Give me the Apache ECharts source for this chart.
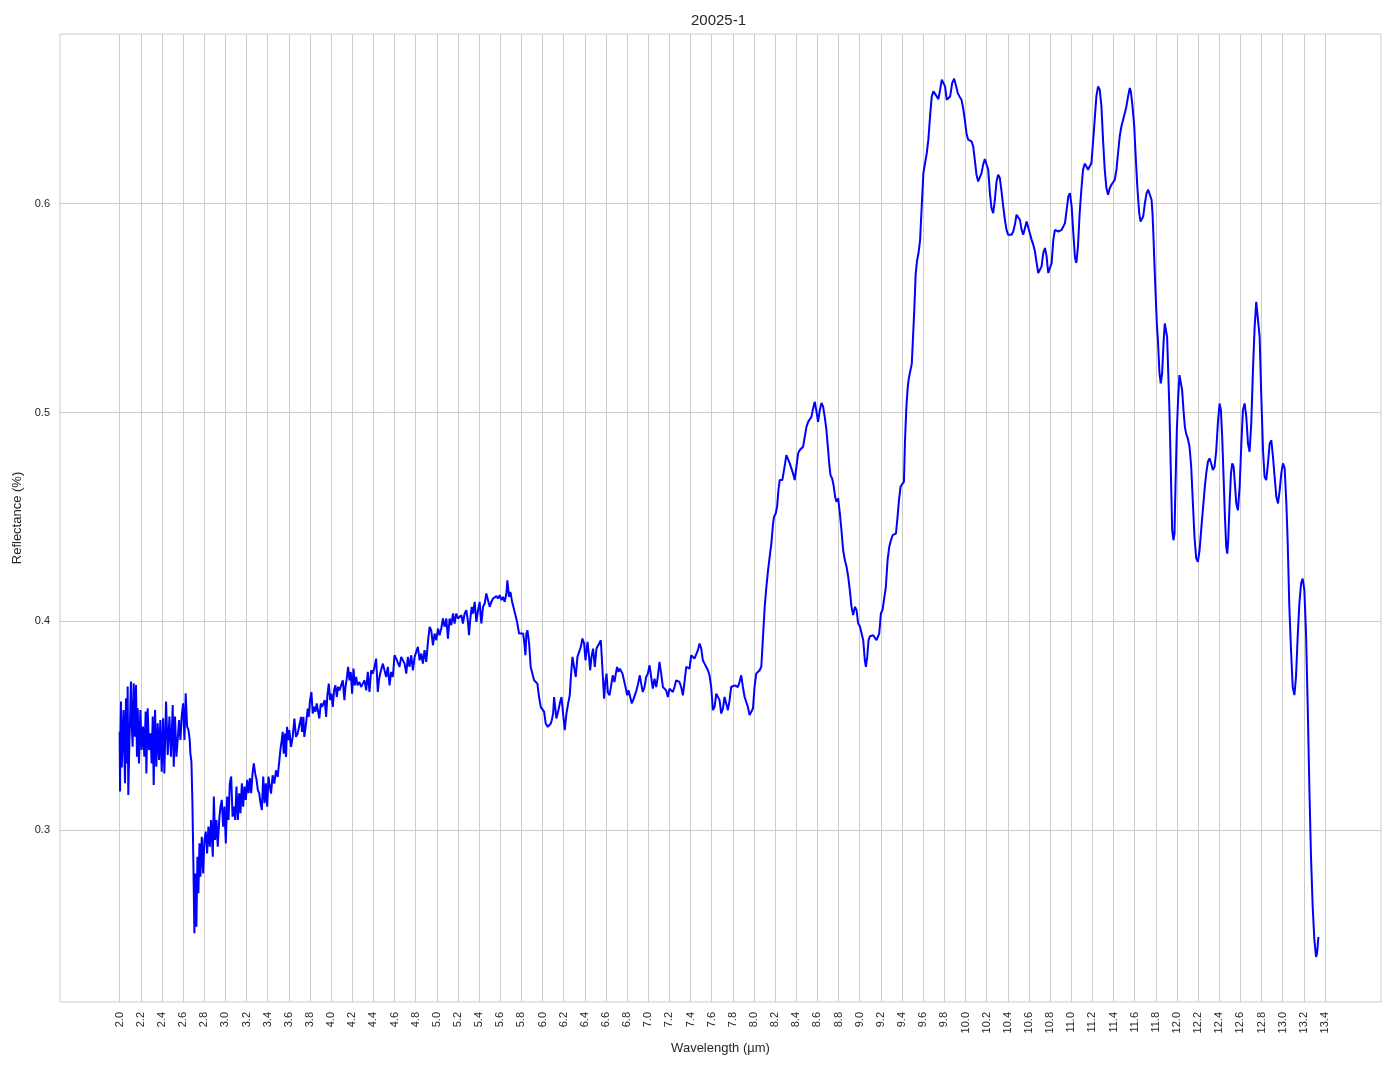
<!DOCTYPE html>
<html>
<head>
<meta charset="utf-8">
<title>20025-1</title>
<script src="https://cdn.jsdelivr.net/npm/echarts@6/dist/echarts.min.js"></script>
<style>
  html, body { margin: 0; padding: 0; background: #ffffff; }
  #chart { width: 1394px; height: 1069px; }
</style>
</head>
<body>
<div id="chart"></div>
<script>
// ---- Data: [wavelength (µm), reflectance] ----
const spectrumA = [
  [2.000,0.3471],[2.004,0.3184],[2.008,0.3470],[2.013,0.3615],[2.020,0.3300],[2.028,0.3431],[2.038,0.3575],[2.045,0.3350],
  [2.051,0.3224],[2.060,0.3631],[2.069,0.3319],[2.076,0.3687],[2.082,0.3168],[2.092,0.3415],[2.100,0.3560],[2.107,0.3711],
  [2.115,0.3500],[2.123,0.3399],[2.133,0.3703],[2.145,0.3447],[2.155,0.3695],[2.164,0.3351],[2.171,0.3583],[2.183,0.3319],
  [2.196,0.3575],[2.208,0.3383],[2.221,0.3495],[2.234,0.3351],[2.246,0.3567],[2.253,0.3271],[2.265,0.3583],[2.278,0.3383],
  [2.291,0.3463],[2.303,0.3319],[2.313,0.3543],[2.322,0.3216],[2.335,0.3575],[2.347,0.3303],[2.360,0.3511],[2.373,0.3335],
  [2.385,0.3527],[2.398,0.3279],[2.411,0.3535],[2.423,0.3271],[2.439,0.3615],[2.455,0.3359],[2.471,0.3543],[2.486,0.3351],
  [2.502,0.3599],[2.512,0.3303],[2.524,0.3543],[2.537,0.3351],[2.549,0.3431],[2.562,0.3527],[2.575,0.3431],[2.587,0.3543],
  [2.600,0.3607],[2.613,0.3431],[2.625,0.3655],[2.638,0.3495],[2.651,0.3479],[2.663,0.3431],[2.669,0.3367],[2.679,0.3327],
  [2.688,0.3144],[2.698,0.2824],[2.707,0.2505],[2.717,0.2792],[2.726,0.2537],[2.736,0.2872],[2.745,0.2697],[2.755,0.2936],
  [2.764,0.2776],[2.777,0.2968],[2.790,0.2792],[2.802,0.2952],[2.815,0.2992],[2.827,0.2888],[2.840,0.3016],[2.853,0.2920],
  [2.865,0.3048],[2.881,0.2872],[2.891,0.3160],[2.903,0.2952],[2.916,0.3048],[2.928,0.2920],[2.944,0.3064],[2.954,0.3112],
  [2.966,0.3144],[2.979,0.3016],[2.992,0.3112],[3.004,0.2936],[3.017,0.3160],[3.030,0.3048],[3.042,0.3224],[3.055,0.3256],
  [3.068,0.3064],[3.080,0.3112],[3.093,0.3048],[3.105,0.3208],[3.118,0.3048],[3.131,0.3176],[3.143,0.3080],[3.156,0.3224],
  [3.168,0.3112],[3.181,0.3208],[3.194,0.3144],[3.206,0.3240],[3.219,0.3176],[3.232,0.3248],[3.244,0.3176],[3.257,0.3271],
  [3.269,0.3319],[3.282,0.3271],[3.295,0.3240],[3.307,0.3192],[3.320,0.3176],[3.333,0.3128],[3.345,0.3096],[3.358,0.3256],
  [3.371,0.3128],[3.383,0.3224],[3.396,0.3112],[3.408,0.3256]
];
const spectrumB = [
  [3.416,0.3222],[3.432,0.3174],[3.447,0.3262],[3.463,0.3222],[3.479,0.3286],[3.495,0.3254],[3.511,0.3334],[3.520,0.3382],
  [3.533,0.3430],[3.542,0.3470],[3.552,0.3366],[3.564,0.3462],[3.574,0.3350],[3.583,0.3494],[3.596,0.3430],[3.605,0.3478],
  [3.621,0.3398],[3.637,0.3446],[3.653,0.3534],[3.668,0.3446],[3.684,0.3462],[3.700,0.3502],[3.716,0.3542],[3.725,0.3470],
  [3.738,0.3542],[3.747,0.3446],[3.763,0.3510],[3.779,0.3582],[3.788,0.3542],[3.801,0.3622],[3.814,0.3661],[3.826,0.3558],
  [3.839,0.3590],[3.852,0.3566],[3.864,0.3606],[3.877,0.3614],[3.889,0.3534],[3.902,0.3606],[3.915,0.3590],[3.927,0.3606],
  [3.940,0.3622],[3.953,0.3542],[3.965,0.3645],[3.978,0.3701],[3.991,0.3622],[4.003,0.3653],[4.016,0.3590],[4.028,0.3669],
  [4.041,0.3693],[4.054,0.3637],[4.066,0.3685],[4.079,0.3669],[4.095,0.3677],[4.111,0.3717],[4.126,0.3622],[4.136,0.3685],
  [4.148,0.3725],[4.161,0.3781],[4.174,0.3717],[4.186,0.3757],[4.199,0.3653],[4.212,0.3773],[4.224,0.3693],[4.237,0.3733],
  [4.250,0.3693],[4.268,0.3709],[4.284,0.3685],[4.300,0.3701],[4.316,0.3717],[4.332,0.3669],[4.347,0.3757],[4.363,0.3661],
  [4.379,0.3765],[4.395,0.3749],[4.411,0.3781],[4.426,0.3821],[4.442,0.3661],[4.452,0.3717],[4.464,0.3749],[4.477,0.3757],
  [4.490,0.3797],[4.505,0.3765],[4.521,0.3733],[4.537,0.3781],[4.553,0.3693],[4.568,0.3757],[4.584,0.3733],[4.600,0.3837],
  [4.616,0.3821],[4.632,0.3813],[4.647,0.3781],[4.663,0.3829],[4.679,0.3813],[4.695,0.3797],[4.711,0.3749],[4.726,0.3829],
  [4.742,0.3781],[4.758,0.3837],[4.774,0.3765],[4.790,0.3829],[4.805,0.3853],[4.821,0.3877],[4.837,0.3813],[4.853,0.3845],
  [4.868,0.3797],[4.884,0.3861],[4.900,0.3805],[4.916,0.3901],[4.932,0.3973],[4.947,0.3957],[4.963,0.3885],[4.979,0.3941],
  [4.995,0.3909],[5.011,0.3965],[5.026,0.3933],[5.042,0.3965],[5.058,0.4013],[5.074,0.3973],[5.090,0.4013],[5.105,0.3917],
  [5.121,0.4013],[5.137,0.3981],[5.153,0.4037],[5.168,0.3989],[5.184,0.4037],[5.200,0.4013],[5.216,0.4005],[5.232,0.4029],
  [5.247,0.3989],[5.263,0.4037],[5.279,0.4053],[5.295,0.3997],[5.304,0.3933],[5.317,0.4013],[5.330,0.4069],[5.342,0.4037],
  [5.358,0.4093],[5.374,0.3997],[5.390,0.4053],[5.405,0.4093],[5.421,0.3989],[5.437,0.4069],[5.453,0.4085],[5.468,0.4133],
  [5.484,0.4125],[5.500,0.4069],[5.516,0.4093],[5.532,0.4109],[5.547,0.4101],[5.563,0.4120],[5.579,0.4109],[5.595,0.4125],
  [5.611,0.4101],[5.626,0.4117],[5.642,0.4093],[5.658,0.4133],[5.667,0.4196],[5.683,0.4117],[5.696,0.4141],[5.712,0.4093],
  [5.728,0.4061],[5.740,0.4053],[5.759,0.3997],[5.778,0.3941]
];
const spectrumC = [
  [5.816,0.3941],[5.825,0.3909],[5.838,0.3837],[5.847,0.3941],[5.857,0.3957],[5.873,0.3893],[5.888,0.3781],[5.904,0.3773],
  [5.920,0.3717],[5.936,0.3725],[5.951,0.3701],[5.967,0.3637],[5.983,0.3590],[5.999,0.3582],[6.015,0.3566],[6.030,0.3510],
  [6.049,0.3494],[6.062,0.3486],[6.078,0.3510],[6.087,0.3526],[6.100,0.3558],[6.109,0.3637],[6.119,0.3590],[6.131,0.3534],
  [6.147,0.3566],[6.163,0.3606],[6.179,0.3637],[6.194,0.3558],[6.210,0.3478],[6.226,0.3558],[6.242,0.3606],[6.257,0.3645],
  [6.270,0.3749],[6.283,0.3829],[6.298,0.3781],[6.314,0.3733],[6.330,0.3829],[6.346,0.3837],[6.362,0.3877],[6.377,0.3917],
  [6.393,0.3893],[6.406,0.3813],[6.425,0.3901],[6.440,0.3829],[6.450,0.3765],[6.463,0.3829],[6.478,0.3869],[6.494,0.3781],
  [6.510,0.3869],[6.522,0.3861],[6.538,0.3896],[6.551,0.3909],[6.567,0.3765],[6.582,0.3629],[6.592,0.3701],[6.605,0.3749],
  [6.617,0.3661],[6.633,0.3645],[6.649,0.3693],[6.664,0.3741],[6.680,0.3709],[6.693,0.3749],[6.705,0.3781],[6.718,0.3757],
  [6.731,0.3773],[6.743,0.3781],[6.756,0.3749],[6.772,0.3741],[6.788,0.3677],[6.800,0.3645],[6.813,0.3669],[6.829,0.3637],
  [6.844,0.3606],[6.857,0.3622],[6.873,0.3622],[6.888,0.3669],[6.904,0.3701],[6.920,0.3741],[6.933,0.3701],[6.948,0.3661],
  [6.964,0.3685],[6.980,0.3733],[6.996,0.3749],[7.012,0.3789],[7.027,0.3733],[7.043,0.3677],[7.059,0.3725],[7.075,0.3685],
  [7.090,0.3733],[7.106,0.3805],[7.122,0.3749],[7.138,0.3685],[7.154,0.3693],[7.169,0.3669],[7.185,0.3637],[7.201,0.3677],
  [7.217,0.3685],[7.232,0.3661],[7.248,0.3685],[7.264,0.3717],[7.280,0.3717],[7.295,0.3709],[7.311,0.3685],[7.327,0.3645],
  [7.343,0.3709],[7.359,0.3781],[7.374,0.3789],[7.390,0.3773],[7.406,0.3837],[7.422,0.3845],[7.437,0.3821],[7.453,0.3829],
  [7.469,0.3861],[7.485,0.3893],[7.501,0.3869],[7.516,0.3813],[7.532,0.3797],[7.548,0.3797],[7.564,0.3765],[7.579,0.3741],
  [7.595,0.3685],[7.611,0.3574],[7.627,0.3590],[7.643,0.3653],[7.658,0.3661],[7.674,0.3622],[7.690,0.3558],[7.706,0.3582],
  [7.721,0.3637],[7.737,0.3606],[7.753,0.3574],[7.769,0.3622],[7.784,0.3685],[7.800,0.3685],[7.816,0.3693],[7.832,0.3701],
  [7.848,0.3685],[7.863,0.3709],[7.879,0.3741],[7.895,0.3685],[7.911,0.3637],[7.926,0.3629],[7.942,0.3590],[7.958,0.3550],
  [7.974,0.3542],[7.990,0.3582],[8.005,0.3685],[8.021,0.3749],[8.037,0.3752],[8.053,0.3765]
];
const spectrumD = [
  [8.069,0.3782],[8.085,0.3925],[8.101,0.4069],[8.117,0.4165],[8.133,0.4245],[8.148,0.4308],[8.164,0.4372],[8.180,0.4468],
  [8.189,0.4500],[8.205,0.4516],[8.218,0.4548],[8.231,0.4628],[8.243,0.4676],[8.256,0.4684],[8.268,0.4676],[8.281,0.4684],
  [8.294,0.4756],[8.306,0.4796],[8.322,0.4788],[8.338,0.4756],[8.354,0.4748],[8.369,0.4708],[8.385,0.4676],[8.401,0.4740],
  [8.417,0.4804],[8.433,0.4820],[8.448,0.4815],[8.464,0.4836],[8.480,0.4883],[8.496,0.4931],[8.512,0.4955],[8.527,0.4963],
  [8.543,0.4979],[8.559,0.5019],[8.575,0.5051],[8.591,0.5003],[8.606,0.4955],[8.622,0.5011],[8.638,0.5046],[8.654,0.5027],
  [8.669,0.4979],[8.685,0.4915],[8.701,0.4820],[8.711,0.4756],[8.723,0.4700],[8.739,0.4684],[8.755,0.4644],[8.767,0.4596],
  [8.780,0.4572],[8.796,0.4588],[8.812,0.4516],[8.827,0.4436],[8.843,0.4340],[8.859,0.4293],[8.875,0.4261],[8.891,0.4213],
  [8.906,0.4149],[8.922,0.4069],[8.938,0.4029],[8.954,0.4069],[8.970,0.4053],[8.985,0.3989],[9.001,0.3976],[9.017,0.3973],
  [9.033,0.3909],[9.048,0.3813],[9.058,0.3781],[9.071,0.3829],[9.083,0.3909],[9.096,0.3928],[9.112,0.3925],[9.127,0.3933],
  [9.143,0.3941],[9.159,0.3909],[9.172,0.3901],[9.184,0.3941],[9.200,0.4037],[9.216,0.4056],[9.232,0.4061],[9.247,0.4165],
  [9.263,0.4292],[9.279,0.4356],[9.295,0.4388],[9.311,0.4412],[9.326,0.4420],[9.342,0.4420],[9.355,0.4484],[9.371,0.4580],
  [9.386,0.4644],[9.402,0.4657],[9.418,0.4668]
];
const spectrumE = [
  [9.428,0.4866],[9.441,0.5026],[9.454,0.5121],[9.466,0.5169],[9.479,0.5201],[9.492,0.5233],[9.504,0.5361],[9.517,0.5505],
  [9.529,0.5664],[9.542,0.5728],[9.555,0.5760],[9.571,0.5828],[9.586,0.5987],[9.602,0.6147],[9.618,0.6195],[9.634,0.6243],
  [9.649,0.6307],[9.665,0.6418],[9.681,0.6514],[9.697,0.6538],[9.713,0.6530],[9.728,0.6514],[9.744,0.6501],[9.760,0.6546],
  [9.776,0.6594],[9.792,0.6602],[9.807,0.6562],[9.823,0.6498],[9.839,0.6490],[9.855,0.6514],[9.874,0.6578],[9.893,0.6599],
  [9.908,0.6570],[9.927,0.6530],[9.943,0.6514],[9.962,0.6498],[9.978,0.6458],[9.994,0.6402],[10.009,0.6339],[10.025,0.6307],
  [10.041,0.6299],[10.057,0.6299],[10.073,0.6275],[10.088,0.6211],[10.104,0.6139],[10.120,0.6107],[10.136,0.6107],[10.152,0.6147],
  [10.167,0.6187],[10.183,0.6214],[10.199,0.6219],[10.215,0.6163],[10.231,0.6051],[10.246,0.5979],[10.262,0.5955],[10.278,0.6019],
  [10.294,0.6107],[10.309,0.6139],[10.325,0.6123],[10.341,0.6059],[10.357,0.5987],[10.373,0.5923],[10.388,0.5875],[10.404,0.5851],
  [10.420,0.5847],[10.436,0.5851],[10.452,0.5867],[10.467,0.5899],[10.483,0.5947],[10.499,0.5955],[10.515,0.5923],[10.531,0.5875],
  [10.546,0.5851],[10.562,0.5883],[10.578,0.5915],[10.594,0.5907],[10.609,0.5859],[10.625,0.5828],[10.641,0.5804],[10.657,0.5772],
  [10.673,0.5716],[10.688,0.5668],[10.704,0.5660],[10.720,0.5700],[10.736,0.5764],[10.752,0.5788],[10.767,0.5748],[10.783,0.5668],
  [10.799,0.5660],[10.815,0.5716],[10.831,0.5828],[10.846,0.5875],[10.862,0.5875],[10.878,0.5867],[10.894,0.5867],[10.910,0.5875],
  [10.925,0.5883],[10.941,0.5907],[10.957,0.5971],[10.973,0.6035],[10.988,0.6051],[11.004,0.5987],[11.020,0.5859],[11.036,0.5740],
  [11.049,0.5716],[11.064,0.5796],[11.080,0.5955],[11.096,0.6067],[11.112,0.6163],[11.127,0.6192],[11.143,0.6179],[11.159,0.6163],
  [11.175,0.6163],[11.191,0.6195],[11.206,0.6291],[11.222,0.6402],[11.238,0.6514],[11.254,0.6562],[11.270,0.6546],[11.286,0.6466],
  [11.301,0.6307],[11.317,0.6163],[11.333,0.6075],[11.349,0.6043],[11.365,0.6075],[11.380,0.6091],[11.396,0.6102],[11.412,0.6115],
  [11.428,0.6163],[11.443,0.6243],[11.459,0.6323],[11.475,0.6371],[11.491,0.6402],[11.507,0.6434],[11.522,0.6466],[11.538,0.6514],
  [11.554,0.6554],[11.564,0.6538],[11.580,0.6466],[11.596,0.6371],[11.605,0.6275],[11.615,0.6179],[11.624,0.6091],[11.634,0.6019],
  [11.643,0.5955],[11.656,0.5915],[11.668,0.5907],[11.681,0.5939],[11.697,0.6003],[11.713,0.6051],[11.728,0.6067],[11.744,0.6059],
  [11.760,0.6019],[11.769,0.5955],[11.779,0.5828],[11.788,0.5700],[11.798,0.5572],[11.811,0.5412],[11.820,0.5348]
];
const spectrumF = [
  [11.835,0.5187],[11.847,0.5139],[11.860,0.5187],[11.873,0.5331],[11.885,0.5426],[11.898,0.5434],[11.907,0.5362],[11.917,0.5203],
  [11.929,0.5011],[11.942,0.4724],[11.955,0.4436],[11.967,0.4388],[11.977,0.4420],[11.986,0.4644],[11.999,0.4915],[12.012,0.5075],
  [12.024,0.5179],[12.037,0.5171],[12.049,0.5107],[12.062,0.5011],[12.075,0.4931],[12.087,0.4899],[12.103,0.4875],[12.119,0.4836],
  [12.135,0.4740],[12.151,0.4564],[12.166,0.4404],[12.182,0.4301],[12.198,0.4285],[12.214,0.4340],[12.229,0.4436],[12.245,0.4532],
  [12.261,0.4628],[12.277,0.4708],[12.293,0.4764],[12.308,0.4780],[12.324,0.4756],[12.340,0.4724],[12.356,0.4740],[12.372,0.4820],
  [12.387,0.4947],[12.403,0.5043],[12.416,0.5011],[12.428,0.4883],[12.441,0.4692],[12.454,0.4500],[12.466,0.4356],[12.476,0.4324],
  [12.485,0.4388],[12.498,0.4564],[12.511,0.4708],[12.523,0.4756],[12.536,0.4740],[12.548,0.4660],[12.561,0.4564],[12.577,0.4532],
  [12.593,0.4644],[12.608,0.4836],[12.624,0.5011],[12.640,0.5043],[12.656,0.4979],[12.672,0.4851],[12.687,0.4812],[12.703,0.4947],
  [12.719,0.5203],[12.735,0.5410],[12.750,0.5530],[12.766,0.5530],[12.782,0.5363],[12.798,0.5075],[12.814,0.4820],[12.829,0.4692],
  [12.845,0.4676],[12.861,0.4756],[12.877,0.4851],[12.893,0.4867],[12.908,0.4788],[12.924,0.4692],[12.940,0.4596],[12.956,0.4564],
  [12.972,0.4628],[12.987,0.4708],[13.003,0.4756],[13.019,0.4732],[13.035,0.4564],[13.047,0.4388],[13.063,0.4069],[13.079,0.3861],
  [13.095,0.3685],[13.111,0.3646],[13.126,0.3733],[13.142,0.3925],[13.158,0.4085],[13.174,0.4180],[13.189,0.4204],[13.205,0.4149],
  [13.221,0.3941],[13.237,0.3590],[13.253,0.3190],[13.268,0.2871],[13.284,0.2631],[13.300,0.2472],[13.316,0.2392],[13.325,0.2408],
  [13.338,0.2488]
];

const xTickValues = [2.0,2.2,2.4,2.6,2.8,3.0,3.2,3.4,3.6,3.8,4.0,4.2,4.4,4.6,4.8,5.0,5.2,5.4,5.6,5.8,
  6.0,6.2,6.4,6.6,6.8,7.0,7.2,7.4,7.6,7.8,8.0,8.2,8.4,8.6,8.8,9.0,9.2,9.4,9.6,9.8,
  10.0,10.2,10.4,10.6,10.8,11.0,11.2,11.4,11.6,11.8,12.0,12.2,12.4,12.6,12.8,13.0,13.2,13.4];
const yTickValues = [0.3, 0.4, 0.5, 0.6];

const chartTitle = '20025-1';
const xAxisName = 'Wavelength (µm)';
const yAxisName = 'Reflectance (%)';

const spectrum = [].concat(spectrumA, spectrumB, spectrumC, spectrumD, spectrumE, spectrumF);

const FONT = '"Liberation Sans", Arial, "DejaVu Sans", sans-serif';
const TEXT = '#262626';
const GRID = '#cccccc';

const chart = echarts.init(document.getElementById('chart'), null, { renderer: 'canvas' });
chart.setOption({
  animation: false,
  backgroundColor: '#ffffff',
  title: {
    text: chartTitle,
    left: 686,
    top: 8,
    textStyle: { fontFamily: FONT, fontSize: 15, fontWeight: 'normal', color: TEXT }
  },
  grid: {
    left: 60, top: 34, right: 13, bottom: 67,
    show: true, borderColor: GRID, borderWidth: 1, backgroundColor: '#ffffff'
  },
  xAxis: {
    type: 'value',
    min: 1.436,
    max: 13.93,
    name: xAxisName,
    nameLocation: 'middle',
    nameGap: 40,
    nameTextStyle: { fontFamily: FONT, fontSize: 13, color: TEXT },
    axisLine: { show: false },
    axisTick: { show: false, customValues: xTickValues },
    axisLabel: {
      customValues: xTickValues,
      rotate: 90,
      margin: 10,
      interval: 0,
      hideOverlap: false,
      fontFamily: FONT, fontSize: 11, color: TEXT,
      formatter: v => Number(v).toFixed(1)
    },
    splitLine: { show: true, lineStyle: { color: GRID, width: 1 } }
  },
  yAxis: {
    type: 'value',
    min: 0.2176,
    max: 0.6813,
    name: yAxisName,
    nameLocation: 'middle',
    nameRotate: 90,
    nameGap: 35,
    nameTextStyle: { fontFamily: FONT, fontSize: 13, color: TEXT },
    axisLine: { show: false },
    axisTick: { show: false, customValues: yTickValues },
    axisLabel: {
      customValues: yTickValues,
      margin: 10,
      fontFamily: FONT, fontSize: 11, color: TEXT,
      formatter: v => Number(v).toFixed(1)
    },
    splitLine: { show: true, lineStyle: { color: GRID, width: 1 } }
  },
  series: [{
    type: 'line',
    data: spectrum,
    showSymbol: false,
    symbol: 'none',
    smooth: false,
    lineStyle: { color: '#0000ff', width: 2 },
    itemStyle: { color: '#0000ff' },
    emphasis: { disabled: true }
  }]
});
</script>
</body>
</html>
